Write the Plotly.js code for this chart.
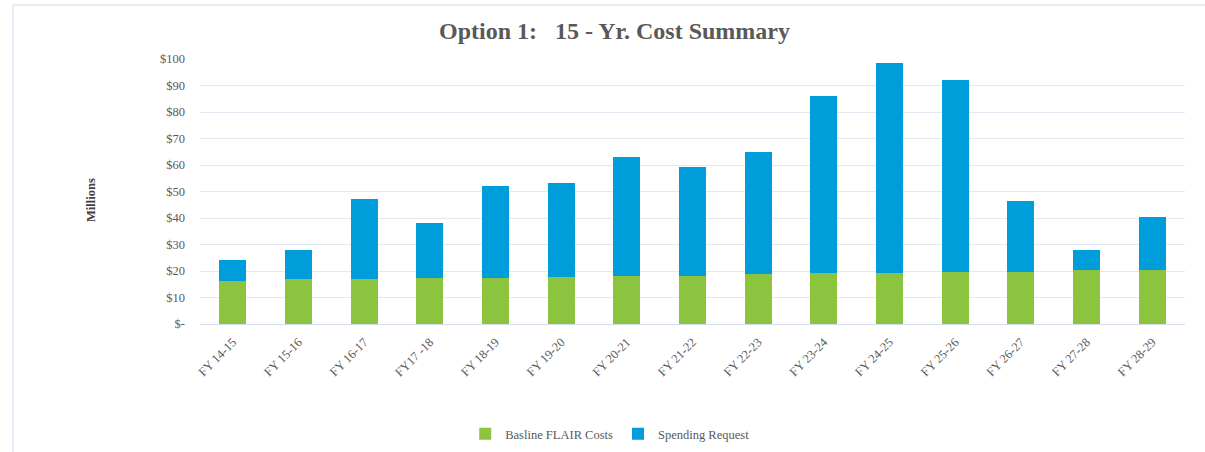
<!DOCTYPE html>
<html>
<head>
<meta charset="utf-8">
<script src="https://cdn.plot.ly/plotly-3.0.1.min.js"></script>
<style>html,body{margin:0;padding:0;background:#fff;}#chart{width:1205px;height:452px;}</style>
</head>
<body>
<div id="chart"></div>
<script>
const categories = ["FY 14-15","FY 15-16","FY 16-17","FY17 -18","FY 18-19","FY 19-20","FY 20-21","FY 21-22","FY 22-23","FY 23-24","FY 24-25","FY 25-26","FY 26-27","FY 27-28","FY 28-29"];
const baselineFlair = [16.4,16.9,17.0,17.3,17.5,17.9,18.2,18.3,18.7,19.1,19.2,19.7,19.8,20.2,20.3];
const spendingRequest = [7.8,11.2,30.2,20.9,34.6,35.2,44.8,40.8,46.1,67.1,79.4,72.2,26.8,7.9,20.2];
const yTickVals = [0,10,20,30,40,50,60,70,80,90,100];
const yTickText = ["$-","$10","$20","$30","$40","$50","$60","$70","$80","$90","$100"];

const serif = "Liberation Serif, DejaVu Serif, serif";
const grey = "#595959";
const L = 200, R = 20, T = 59, B = 128, W = 1205, H = 452;
const pw = W - L - R, ph = H - T - B;
const px = x => (x - L) / pw;
const py = y => (H - B - y) / ph;

const traces = [
  {type:"bar", name:"Basline FLAIR Costs", x:categories, y:baselineFlair, marker:{color:"#8cc43f"}},
  {type:"bar", name:"Spending Request", x:categories, y:spendingRequest, marker:{color:"#009ddb"}}
];

const layout = {
  width: W, height: H,
  margin: {l:L, r:R, t:T, b:B, autoexpand:false},
  paper_bgcolor:"#fff", plot_bgcolor:"#fff",
  barmode:"stack", bargap:0.59,
  showlegend:true,
  title:{text:"<b>Option 1:   15 - Yr. Cost Summary</b>", font:{family:serif, size:24, color:grey}, x:0.51, xref:"container", xanchor:"center", y:1 - 31/H, yref:"container", yanchor:"middle"},
  font:{family:serif, color:grey},
  xaxis:{tickangle:-45, tickfont:{family:serif, size:12.5, color:grey}, showgrid:false, showline:true, linecolor:"#d3ddec", linewidth:1, ticks:"", ticklen:0, ticklabelstandoff:5, automargin:false},
  yaxis:{range:[0,100], tickvals:yTickVals, ticktext:yTickText, tickfont:{family:serif, size:12.5, color:grey}, gridcolor:"#e1e9f4", gridwidth:1, zeroline:false, showline:false, ticks:"", ticklabelstandoff:14, automargin:false},
  legend:{orientation:"h", x:0.506, xref:"container", xanchor:"center", y:1 - 434/H, yref:"container", yanchor:"middle", font:{family:serif, size:12.5, color:grey}, traceorder:"normal", itemwidth:30},
  annotations:[{text:"<b>Millions</b>", textangle:-90, xref:"paper", yref:"paper", x:px(91), xanchor:"center", y:py(200), yanchor:"middle", showarrow:false, font:{family:serif, size:12.5, color:"#404040"}}],
  shapes:[
    {type:"line", xref:"paper", yref:"paper", x0:px(13), x1:px(1205), y0:py(5), y1:py(5), line:{color:"#dbe5f3", width:1.5}},
    {type:"line", xref:"paper", yref:"paper", x0:px(13), x1:px(13), y0:py(5), y1:py(452), line:{color:"#dbe5f3", width:1.5}}
  ]
};

Plotly.newPlot("chart", traces, layout, {displayModeBar:false, staticPlot:true});
</script>
</body>
</html>
